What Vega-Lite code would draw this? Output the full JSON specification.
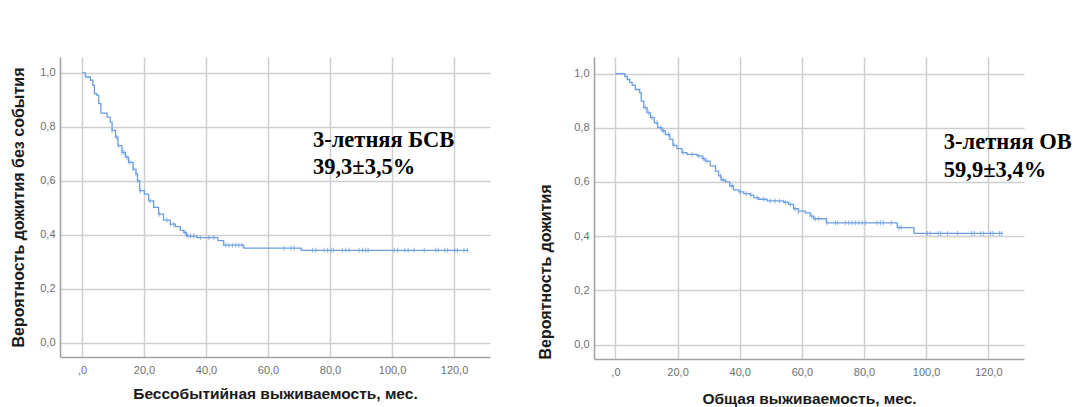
{
  "$schema": "https://vega.github.io/schema/vega-lite/v6.json",
  "background": "white",
  "padding": {"left": 10, "top": 57, "right": 0, "bottom": 0},
  "bounds": "flush",
  "spacing": 104,
  "config": {
    "view": {"stroke": null},
    "font": "Liberation Sans",
    "axis": {
      "grid": true,
      "gridColor": "#cfcfcf",
      "gridWidth": 1.5,
      "domainColor": "#a3a3a3",
      "domainWidth": 1.6,
      "ticks": false,
      "labelFont": "Liberation Sans",
      "labelFontSize": 11,
      "labelColor": "#707070",
      "titleFont": "Liberation Sans",
      "titleFontWeight": "bold",
      "titleColor": "#1a1a1a"
    },
    "axisX": {"labelPadding": 7, "titlePadding": 11, "titleFontSize": 15.5},
    "axisY": {"labelPadding": 5, "titlePadding": 13, "titleFontSize": 16}
  },
  "datasets": {
    "efs": [
      {"t": 0, "s": 1.0}, {"t": 1.1, "s": 0.985}, {"t": 2.7, "s": 0.973}, {"t": 3.5, "s": 0.954},
      {"t": 4.0, "s": 0.923}, {"t": 4.8, "s": 0.917}, {"t": 5.4, "s": 0.886}, {"t": 6.1, "s": 0.851},
      {"t": 8.1, "s": 0.836}, {"t": 9.1, "s": 0.818}, {"t": 9.7, "s": 0.787}, {"t": 10.8, "s": 0.762},
      {"t": 11.6, "s": 0.731}, {"t": 12.9, "s": 0.706}, {"t": 14.0, "s": 0.688}, {"t": 15.0, "s": 0.669},
      {"t": 16.5, "s": 0.644}, {"t": 17.4, "s": 0.626}, {"t": 17.9, "s": 0.601}, {"t": 18.6, "s": 0.564},
      {"t": 20.1, "s": 0.551}, {"t": 21.5, "s": 0.526}, {"t": 23.1, "s": 0.502}, {"t": 24.7, "s": 0.477},
      {"t": 26.3, "s": 0.455}, {"t": 28.5, "s": 0.44}, {"t": 30.1, "s": 0.431}, {"t": 31.7, "s": 0.417},
      {"t": 32.8, "s": 0.409}, {"t": 33.7, "s": 0.396}, {"t": 37.1, "s": 0.39}, {"t": 43.8, "s": 0.379},
      {"t": 45.7, "s": 0.362}, {"t": 52.2, "s": 0.351}, {"t": 70.7, "s": 0.343}, {"t": 124.6, "s": 0.343}
    ],
    "efs_censored": [
      {"t": 9.7, "s": 0.787}, {"t": 11.1, "s": 0.762}, {"t": 11.8, "s": 0.731}, {"t": 12.9, "s": 0.706},
      {"t": 13.5, "s": 0.706}, {"t": 14.5, "s": 0.688}, {"t": 15.4, "s": 0.669}, {"t": 16.5, "s": 0.644},
      {"t": 17.4, "s": 0.626}, {"t": 17.9, "s": 0.601}, {"t": 18.8, "s": 0.564}, {"t": 22.0, "s": 0.526},
      {"t": 24.9, "s": 0.477}, {"t": 27.4, "s": 0.455}, {"t": 28.5, "s": 0.44}, {"t": 29.6, "s": 0.44},
      {"t": 33.3, "s": 0.409}, {"t": 34.1, "s": 0.396}, {"t": 35.0, "s": 0.396}, {"t": 36.0, "s": 0.396},
      {"t": 38.2, "s": 0.39}, {"t": 40.9, "s": 0.39}, {"t": 42.5, "s": 0.39},
      {"t": 46.4, "s": 0.362}, {"t": 47.4, "s": 0.362}, {"t": 48.5, "s": 0.362}, {"t": 49.6, "s": 0.362},
      {"t": 50.6, "s": 0.362}, {"t": 51.6, "s": 0.362},
      {"t": 65.2, "s": 0.351}, {"t": 67.4, "s": 0.351}, {"t": 68.4, "s": 0.351},
      {"t": 74.4, "s": 0.343}, {"t": 75.4, "s": 0.343}, {"t": 78.1, "s": 0.343}, {"t": 79.2, "s": 0.343},
      {"t": 80.3, "s": 0.343}, {"t": 81.1, "s": 0.343}, {"t": 84.0, "s": 0.343}, {"t": 85.1, "s": 0.343},
      {"t": 86.2, "s": 0.343}, {"t": 89.4, "s": 0.343}, {"t": 90.5, "s": 0.343}, {"t": 91.5, "s": 0.343},
      {"t": 92.3, "s": 0.343}, {"t": 100.7, "s": 0.343}, {"t": 101.8, "s": 0.343}, {"t": 104.1, "s": 0.343},
      {"t": 105.2, "s": 0.343}, {"t": 107.1, "s": 0.343}, {"t": 110.4, "s": 0.343}, {"t": 114.1, "s": 0.343},
      {"t": 114.9, "s": 0.343}, {"t": 117.0, "s": 0.343}, {"t": 117.9, "s": 0.343}, {"t": 120.2, "s": 0.343},
      {"t": 121.1, "s": 0.343}, {"t": 123.2, "s": 0.343}, {"t": 124.3, "s": 0.343}
    ],
    "efs_note": [
      {"t": 74.5, "s": 0.725, "label": "3-летняя БСВ"},
      {"t": 74.5, "s": 0.625, "label": "39,3±3,5%"}
    ],
    "os": [
      {"t": 0, "s": 1.0}, {"t": 3.0, "s": 0.989}, {"t": 3.8, "s": 0.978}, {"t": 4.6, "s": 0.967},
      {"t": 5.4, "s": 0.956}, {"t": 6.4, "s": 0.941}, {"t": 7.8, "s": 0.929}, {"t": 8.3, "s": 0.898},
      {"t": 9.1, "s": 0.874}, {"t": 10.2, "s": 0.855}, {"t": 11.3, "s": 0.837}, {"t": 12.5, "s": 0.818},
      {"t": 13.6, "s": 0.8}, {"t": 15.0, "s": 0.788}, {"t": 16.1, "s": 0.775}, {"t": 17.5, "s": 0.757},
      {"t": 18.5, "s": 0.735}, {"t": 19.8, "s": 0.723}, {"t": 21.4, "s": 0.708}, {"t": 23.0, "s": 0.702},
      {"t": 26.3, "s": 0.696}, {"t": 27.9, "s": 0.686}, {"t": 28.9, "s": 0.677}, {"t": 30.5, "s": 0.659},
      {"t": 32.2, "s": 0.64}, {"t": 33.2, "s": 0.622}, {"t": 34.0, "s": 0.607}, {"t": 35.4, "s": 0.6},
      {"t": 36.8, "s": 0.585}, {"t": 38.0, "s": 0.571}, {"t": 39.7, "s": 0.563}, {"t": 41.3, "s": 0.557},
      {"t": 43.4, "s": 0.551}, {"t": 44.5, "s": 0.542}, {"t": 46.1, "s": 0.536}, {"t": 48.8, "s": 0.53},
      {"t": 54.1, "s": 0.525}, {"t": 55.7, "s": 0.517}, {"t": 57.3, "s": 0.501}, {"t": 58.9, "s": 0.492},
      {"t": 61.1, "s": 0.486}, {"t": 62.7, "s": 0.474}, {"t": 63.8, "s": 0.464}, {"t": 67.9, "s": 0.449},
      {"t": 90.7, "s": 0.431}, {"t": 96.1, "s": 0.41}, {"t": 124.6, "s": 0.41}
    ],
    "os_censored": [
      {"t": 9.6, "s": 0.874}, {"t": 10.7, "s": 0.855}, {"t": 11.8, "s": 0.837}, {"t": 13.4, "s": 0.818},
      {"t": 14.5, "s": 0.8}, {"t": 15.5, "s": 0.788}, {"t": 17.2, "s": 0.775}, {"t": 18.8, "s": 0.735},
      {"t": 21.8, "s": 0.708}, {"t": 24.7, "s": 0.702}, {"t": 26.8, "s": 0.696}, {"t": 28.4, "s": 0.686},
      {"t": 29.5, "s": 0.677}, {"t": 33.8, "s": 0.622}, {"t": 34.6, "s": 0.607}, {"t": 37.5, "s": 0.585},
      {"t": 40.2, "s": 0.563}, {"t": 42.1, "s": 0.557}, {"t": 43.6, "s": 0.551}, {"t": 45.6, "s": 0.542},
      {"t": 47.7, "s": 0.536}, {"t": 49.8, "s": 0.53}, {"t": 51.4, "s": 0.53}, {"t": 52.8, "s": 0.53},
      {"t": 54.7, "s": 0.525}, {"t": 56.3, "s": 0.517}, {"t": 57.8, "s": 0.501}, {"t": 58.9, "s": 0.492},
      {"t": 63.2, "s": 0.474}, {"t": 64.3, "s": 0.464}, {"t": 65.4, "s": 0.464}, {"t": 68.1, "s": 0.449},
      {"t": 70.8, "s": 0.449}, {"t": 71.5, "s": 0.449}, {"t": 74.0, "s": 0.449}, {"t": 75.1, "s": 0.449},
      {"t": 76.2, "s": 0.449}, {"t": 77.2, "s": 0.449}, {"t": 78.3, "s": 0.449}, {"t": 79.4, "s": 0.449},
      {"t": 80.5, "s": 0.449}, {"t": 84.2, "s": 0.449}, {"t": 85.3, "s": 0.449}, {"t": 86.2, "s": 0.449},
      {"t": 88.8, "s": 0.449}, {"t": 91.3, "s": 0.431}, {"t": 92.0, "s": 0.431},
      {"t": 100.4, "s": 0.41}, {"t": 101.3, "s": 0.41}, {"t": 103.9, "s": 0.41}, {"t": 104.7, "s": 0.41},
      {"t": 106.9, "s": 0.41}, {"t": 110.1, "s": 0.41}, {"t": 114.6, "s": 0.41}, {"t": 115.5, "s": 0.41},
      {"t": 117.6, "s": 0.41}, {"t": 118.5, "s": 0.41}, {"t": 120.7, "s": 0.41}, {"t": 121.5, "s": 0.41},
      {"t": 123.6, "s": 0.41}, {"t": 124.3, "s": 0.41}
    ],
    "os_note": [
      {"t": 105.7, "s": 0.72, "label": "3-летняя ОВ"},
      {"t": 105.7, "s": 0.618, "label": "59,9±3,4%"}
    ]
  },
  "hconcat": [
    {
      "width": 430,
      "height": 300,
      "encoding": {
        "x": {
          "field": "t", "type": "quantitative",
          "scale": {"domain": [-7.1, 131.6], "nice": false, "zero": false},
          "axis": {
            "title": "Бессобытийная выживаемость, мес.",
            "values": [0, 20, 40, 60, 80, 100, 120],
            "labelExpr": "datum.value == 0 ? ',0' : replace(format(datum.value, '.1f'), '.', ',')"
          }
        },
        "y": {
          "field": "s", "type": "quantitative",
          "scale": {"domain": [-0.052, 1.059], "nice": false, "zero": false},
          "axis": {
            "title": "Вероятность дожития без события",
            "values": [0, 0.2, 0.4, 0.6, 0.8, 1.0],
            "labelExpr": "replace(format(datum.value, '.1f'), '.', ',')"
          }
        }
      },
      "layer": [
        {
          "data": {"name": "efs"},
          "mark": {"type": "line", "interpolate": "step-after", "color": "#6c9fe2", "strokeWidth": 1.3}
        },
        {
          "data": {"name": "efs_censored"},
          "mark": {"type": "tick", "orient": "vertical", "color": "#6c9fe2", "size": 5, "thickness": 1.1}
        },
        {
          "data": {"name": "efs_note"},
          "mark": {"type": "text", "align": "left", "baseline": "alphabetic", "font": "Liberation Serif", "fontSize": 22.5, "fontWeight": "bold", "color": "#000000"},
          "encoding": {"text": {"field": "label"}}
        }
      ]
    },
    {
      "width": 430,
      "height": 302,
      "encoding": {
        "x": {
          "field": "t", "type": "quantitative",
          "scale": {"domain": [-6.9, 131.5], "nice": false, "zero": false},
          "axis": {
            "title": "Общая выживаемость, мес.",
            "values": [0, 20, 40, 60, 80, 100, 120],
            "labelExpr": "datum.value == 0 ? ',0' : replace(format(datum.value, '.1f'), '.', ',')",
            "titlePadding": 14
          }
        },
        "y": {
          "field": "s", "type": "quantitative",
          "scale": {"domain": [-0.0535, 1.061], "nice": false, "zero": false},
          "axis": {
            "title": "Вероятность дожития",
            "titleAnchor": "start",
            "titlePadding": 20,
            "values": [0, 0.2, 0.4, 0.6, 0.8, 1.0],
            "labelExpr": "replace(format(datum.value, '.1f'), '.', ',')"
          }
        }
      },
      "layer": [
        {
          "data": {"name": "os"},
          "mark": {"type": "line", "interpolate": "step-after", "color": "#6c9fe2", "strokeWidth": 1.3}
        },
        {
          "data": {"name": "os_censored"},
          "mark": {"type": "tick", "orient": "vertical", "color": "#6c9fe2", "size": 5, "thickness": 1.1}
        },
        {
          "data": {"name": "os_note"},
          "mark": {"type": "text", "align": "left", "baseline": "alphabetic", "font": "Liberation Serif", "fontSize": 22.5, "fontWeight": "bold", "color": "#000000"},
          "encoding": {"text": {"field": "label"}}
        }
      ]
    }
  ]
}
